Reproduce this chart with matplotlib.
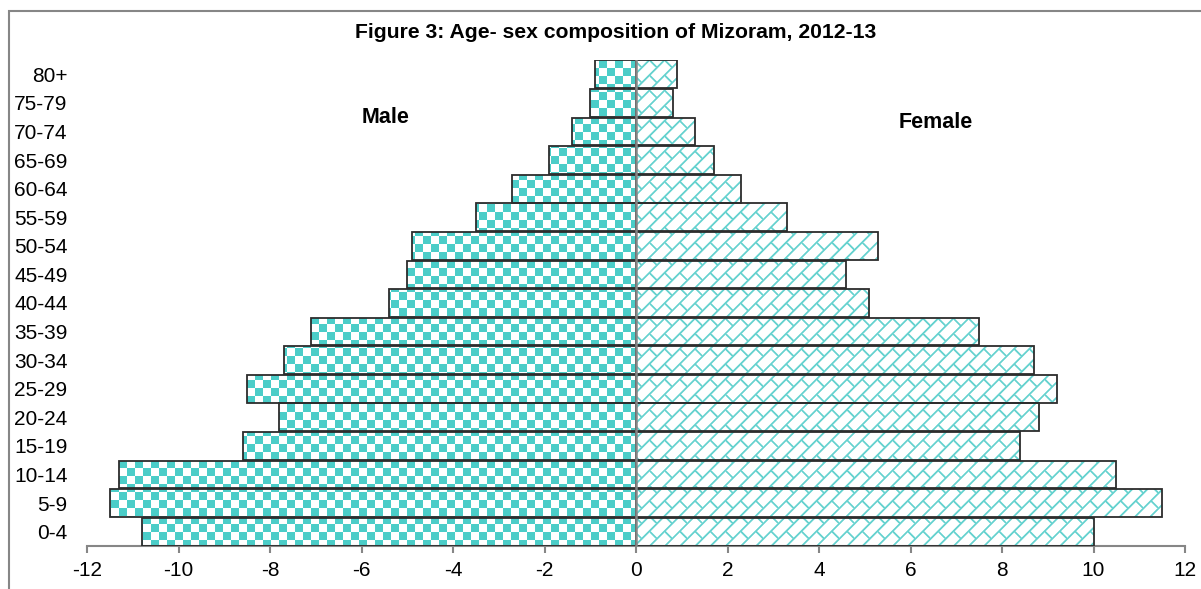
import numpy as np
import matplotlib
matplotlib.use("Agg")
import matplotlib.pyplot as plt
from matplotlib.path import Path
from matplotlib.patches import Rectangle

plt.rcParams['font.family'] = ['Liberation Sans', 'DejaVu Sans']

# Age groups (bottom to top) and percentage shares
age_groups = ["0-4", "5-9", "10-14", "15-19", "20-24", "25-29", "30-34", "35-39",
              "40-44", "45-49", "50-54", "55-59", "60-64", "65-69", "70-74",
              "75-79", "80+"]
male = [10.8, 11.5, 11.3, 8.6, 7.8, 8.5, 7.7, 7.1, 5.4, 5.0, 4.9, 3.5, 2.7, 1.9, 1.4, 1.0, 0.9]
female = [10.0, 11.5, 10.5, 8.4, 8.8, 9.2, 8.7, 7.5, 5.1, 4.6, 5.3, 3.3, 2.3, 1.7, 1.3, 0.8, 0.9]
x_ticks = list(range(-12, 13, 2))

title = "Figure 3: Age- sex composition of Mizoram, 2012-13"

W_PX, H_PX = 1201, 589
DPI = 100
fig = plt.figure(figsize=(W_PX / DPI, H_PX / DPI), dpi=DPI)

# plot area in pixels
ax_l, ax_r, ax_t, ax_b = 87, 1185, 60, 546
ax = fig.add_axes([ax_l / W_PX, (H_PX - ax_b) / H_PX,
                   (ax_r - ax_l) / W_PX, (ax_b - ax_t) / H_PX])

teal = np.array([75, 205, 200], dtype=float)
line_teal = np.array([85, 205, 202], dtype=float)
white = np.array([255, 255, 255], dtype=float)

y = np.arange(len(age_groups))
bar_h = 0.97
edge = "#2c2c2c"
male_bars = ax.barh(y, [-v for v in male], height=bar_h, facecolor="none",
                    edgecolor=edge, linewidth=1.3, zorder=3)
female_bars = ax.barh(y, female, height=bar_h, facecolor="none",
                      edgecolor=edge, linewidth=1.3, zorder=3)

xlim = (-12, 12)
ylim = (-0.5, len(age_groups) - 0.5)
ax.set_xlim(*xlim)
ax.set_ylim(*ylim)

# textures in screen pixels
tw, th = ax_r - ax_l, ax_b - ax_t
jj, ii = np.meshgrid(np.arange(tw, dtype=float), np.arange(th, dtype=float))

# checkerboard fill
cell = 8
checker = ((ii.astype(int) // cell + jj.astype(int) // cell) % 2 == 0)
tex_m = np.empty((th, tw, 3))
tex_m[:] = white
tex_m[checker] = teal

# diagonal brick fill
s = 1.9
X, Y = (jj + 0.5) / s, (ii + 0.5) / s
a = np.mod(X + Y, 8.0)
d_slash = np.minimum(a, 8.0 - a) * s / np.sqrt(2)
k = np.floor((X + Y) / 8.0)
b = np.mod(X - Y - 8.0 * k, 16.0)
d_back = np.minimum(b, 16.0 - b) * s / np.sqrt(2)
dist = np.minimum(d_slash, d_back)
alpha = np.clip(1.0 - (dist - 0.45) / 0.9, 0.0, 1.0)[..., None] * 0.9
tex_f = white * (1 - alpha) + line_teal * alpha


def bars_clip(bars):
    paths = [p.get_path().transformed(p.get_patch_transform()) for p in bars.patches]
    return Path.make_compound_path(*paths)


for tex, bars in ((tex_m, male_bars), (tex_f, female_bars)):
    im = ax.imshow(tex.astype(np.uint8), extent=[xlim[0], xlim[1], ylim[0], ylim[1]],
                   aspect="auto", interpolation="nearest", origin="upper", zorder=1)
    im.set_clip_path(bars_clip(bars), transform=ax.transData)

ax.set_xlim(*xlim)
ax.set_ylim(*ylim)

# zero line
ax.axvline(0, color="#868686", linewidth=1.8, zorder=4)

# axes styling
for side in ("top", "right", "left"):
    ax.spines[side].set_visible(False)
ax.spines["bottom"].set_color("#868686")
ax.spines["bottom"].set_linewidth(1.5)
ax.set_xticks(x_ticks)
ax.set_xticklabels([str(t) for t in x_ticks])
ax.tick_params(axis="x", direction="out", length=5, width=1.5, color="#868686",
               labelsize=15, pad=6, labelcolor="black")
ax.set_yticks(y)
ax.set_yticklabels(age_groups)
ax.tick_params(axis="y", length=0, labelsize=15, pad=14, labelcolor="black")

ax.text(-5.47, 14.5, "Male", ha="center", va="center", fontsize=15.5, fontweight="bold")
ax.text(6.56, 14.3, "Female", ha="center", va="center", fontsize=15.5, fontweight="bold")

fig.text(616 / W_PX, 1 - 32 / H_PX, title, ha="center", va="center",
         fontsize=15.2, fontweight="bold")

# outer frame
fig.patches.append(Rectangle((9 / W_PX, -0.2), 1.2, (H_PX - 11) / H_PX + 0.2,
                             transform=fig.transFigure, fill=False,
                             edgecolor="#868686", linewidth=1.5))

fig.savefig("out.png", dpi=DPI)
